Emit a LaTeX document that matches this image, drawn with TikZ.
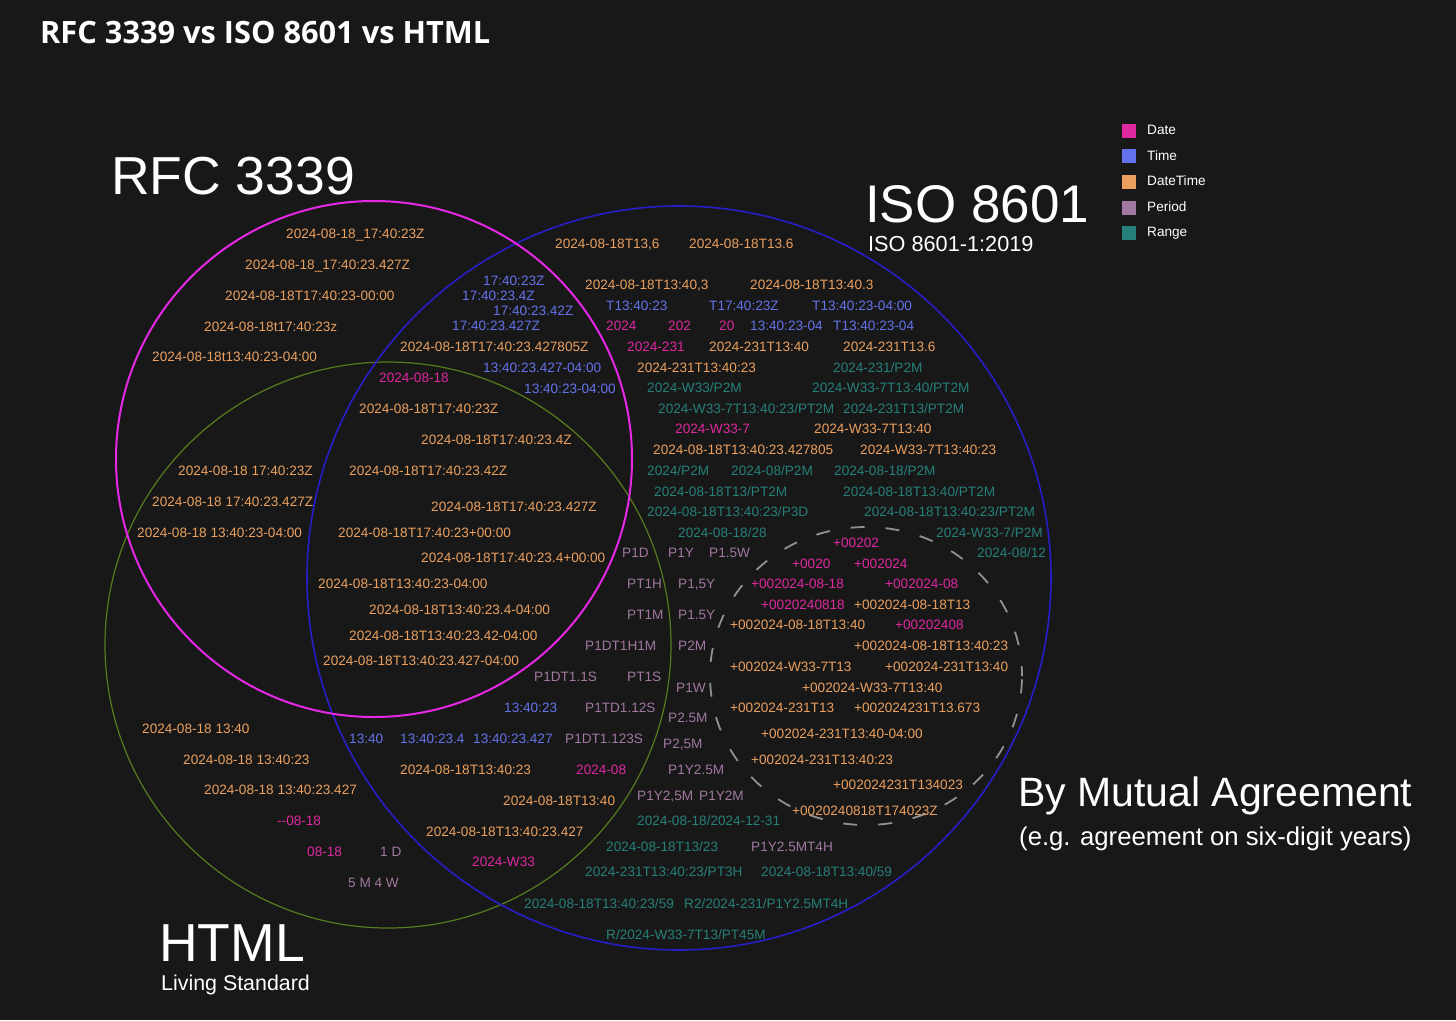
\documentclass[tikz,border=0pt]{standalone}
\usepackage{fontspec}
\usepackage{graphicx}
\setmainfont{Liberation Sans}
\newfontfamily\labfont{Liberation Sans}
\newfontfamily\titlefont{Open Sans}
\definecolor{bg}{RGB}{24,24,24}
\definecolor{cDate}{RGB}{222,40,160}
\definecolor{cTime}{RGB}{100,115,235}
\definecolor{cDT}{RGB}{235,160,95}
\definecolor{cPer}{RGB}{160,120,160}
\definecolor{cRng}{RGB}{38,128,122}
\definecolor{cRFC}{RGB}{230,40,230}
\definecolor{cISO}{RGB}{40,30,200}
\definecolor{cHTML}{RGB}{85,125,30}
\definecolor{cMA}{RGB}{145,145,145}
\begin{document}
\begin{tikzpicture}[x=1pt,y=-1pt,
  lab/.style={anchor=base west, inner sep=0pt, font=\labfont\fontsize{13.6}{15}\selectfont},
  dt/.style={lab, text=cDT},
  dd/.style={lab, text=cDate},
  tm/.style={lab, text=cTime},
  pr/.style={lab, text=cPer},
  rg/.style={lab, text=cRng},
  head/.style={anchor=base west, inner sep=0pt, text=white},
  setc/.style={circle, draw, inner sep=0pt, fill=none},
  legsq/.style={rectangle, inner sep=0pt, minimum size=14pt},
  legtx/.style={anchor=west, inner sep=0pt, text=white, font=\labfont\fontsize{13.6}{15}\selectfont}
]
\fill[bg] (0,0) rectangle (1456,1020);
\useasboundingbox (0,0) rectangle (1456,1020);

% title
\node[head] (title) at (40,43.5) {\resizebox{450pt}{!}{\titlefont\bfseries RFC 3339 vs ISO 8601 vs HTML}};

% set circles
\node[setc, draw=cHTML, line width=1.2pt, minimum size=566pt] (html) at (388,645) {};
\node[setc, draw=cISO, line width=1.6pt, minimum size=744pt] (iso) at (679,578) {};
\node[setc, draw=cRFC, line width=2pt, minimum size=516pt] (rfc) at (374,459) {};
\draw[cMA, line width=1.8pt, dash pattern=on 14pt off 21pt, dash phase=4pt] (866,676) ellipse[x radius=156pt, y radius=149pt];

% headers
\node[head, font=\fontsize{53.5}{60}\selectfont] (hrfc) at (111,194) {RFC 3339};
\node[head, font=\fontsize{53}{60}\selectfont] (hiso) at (865,222) {ISO 8601};
\node[head, font=\fontsize{21.7}{25}\selectfont] (hiso2) at (868,251) {ISO 8601-1:2019};
\node[head, font=\fontsize{53.5}{60}\selectfont] (hhtml) at (159,961) {HTML};
\node[head, font=\fontsize{21.4}{25}\selectfont] (hhtml2) at (161,990) {Living Standard};
\node[head, font=\fontsize{41}{46}\selectfont] (hma) at (1018,806) {By Mutual Agreement};
\node[head, font=\fontsize{25.7}{30}\selectfont] (hma2) at (1019,845) {(e.g. agreement on six-digit years)};

% legend
\node[legsq, fill=cDate] (lq1) at (1129,131) {};
\node[legsq, fill=cTime] (lq2) at (1129,156) {};
\node[legsq, fill=cDT] (lq3) at (1129,182) {};
\node[legsq, fill=cPer] (lq4) at (1129,208) {};
\node[legsq, fill=cRng] (lq5) at (1129,233) {};
\node[legtx] (lt1) at (1147,130) {Date};
\node[legtx] (lt2) at (1147,156) {Time};
\node[legtx] (lt3) at (1147,181) {DateTime};
\node[legtx] (lt4) at (1147,207) {Period};
\node[legtx] (lt5) at (1147,233) {Range};

% RFC only
\node[dt] (a1) at (286,238) {2024-08-18\_17:40:23Z};
\node[dt] (a2) at (245,269) {2024-08-18\_17:40:23.427Z};
\node[dt] (a3) at (225,300) {2024-08-18T17:40:23-00:00};
\node[dt] (a4) at (204,331) {2024-08-18t17:40:23z};
\node[dt] (a5) at (152,361) {2024-08-18t13:40:23-04:00};

% RFC and ISO
\node[tm] (b1) at (483,285) {17:40:23Z};
\node[tm] (b2) at (462,300) {17:40:23.4Z};
\node[tm] (b3) at (493,315) {17:40:23.42Z};
\node[tm] (b4) at (452,330) {17:40:23.427Z};
\node[dt] (b5) at (400,351) {2024-08-18T17:40:23.427805Z};
\node[tm] (b6) at (483,372) {13:40:23.427-04:00};
\node[tm] (b7) at (524,393) {13:40:23-04:00};

% all three
\node[dd] (c1) at (379,382) {2024-08-18};
\node[dt] (c2) at (359,413) {2024-08-18T17:40:23Z};
\node[dt] (c3) at (421,444) {2024-08-18T17:40:23.4Z};
\node[dt] (c4) at (349,475) {2024-08-18T17:40:23.42Z};
\node[dt] (c5) at (431,511) {2024-08-18T17:40:23.427Z};
\node[dt] (c6) at (338,537) {2024-08-18T17:40:23+00:00};
\node[dt] (c7) at (421,562) {2024-08-18T17:40:23.4+00:00};
\node[dt] (c8) at (318,588) {2024-08-18T13:40:23-04:00};
\node[dt] (c9) at (369,614) {2024-08-18T13:40:23.4-04:00};
\node[dt] (c10) at (349,640) {2024-08-18T13:40:23.42-04:00};
\node[dt] (c11) at (323,665) {2024-08-18T13:40:23.427-04:00};

% RFC and HTML
\node[dt] (d1) at (178,475) {2024-08-18 17:40:23Z};
\node[dt] (d2) at (152,506) {2024-08-18 17:40:23.427Z};
\node[dt] (d3) at (137,537) {2024-08-18 13:40:23-04:00};

% HTML and ISO
\node[pr] (e1) at (622,557) {P1D};
\node[pr] (e2) at (668,557) {P1Y};
\node[pr] (e3) at (709,557) {P1.5W};
\node[pr] (e4) at (627,588) {PT1H};
\node[pr] (e5) at (678,588) {P1,5Y};
\node[pr] (e6) at (627,619) {PT1M};
\node[pr] (e7) at (678,619) {P1.5Y};
\node[pr] (e8) at (585,650) {P1DT1H1M};
\node[pr] (e9) at (678,650) {P2M};
\node[pr] (e10) at (534,681) {P1DT1.1S};
\node[pr] (e11) at (627,681) {PT1S};
\node[pr] (e12) at (676,692) {P1W};
\node[tm] (e13) at (504,712) {13:40:23};
\node[pr] (e14) at (585,712) {P1TD1.12S};
\node[pr] (e15) at (668,722) {P2.5M};
\node[tm] (e16) at (349,743) {13:40};
\node[tm] (e17) at (400,743) {13:40:23.4};
\node[tm] (e18) at (473,743) {13:40:23.427};
\node[pr] (e19) at (565,743) {P1DT1.123S};
\node[pr] (e20) at (663,748) {P2,5M};
\node[dt] (e21) at (400,774) {2024-08-18T13:40:23};
\node[dd] (e22) at (576,774) {2024-08};
\node[pr] (e23) at (668,774) {P1Y2.5M};
\node[dt] (e24) at (503,805) {2024-08-18T13:40};
\node[pr] (e25) at (637,800) {P1Y2,5M};
\node[pr] (e26) at (699,800) {P1Y2M};
\node[dt] (e27) at (426,836) {2024-08-18T13:40:23.427};
\node[dd] (e28) at (472,866) {2024-W33};

% HTML only
\node[dt] (f1) at (142,733) {2024-08-18 13:40};
\node[dt] (f2) at (183,764) {2024-08-18 13:40:23};
\node[dt] (f3) at (204,794) {2024-08-18 13:40:23.427};
\node[dd] (f4) at (277,825) {--08-18};
\node[dd] (f5) at (307,856) {08-18};
\node[pr] (f6) at (380,856) {1 D};
\node[pr] (f7) at (348,887) {5 M 4 W};

% ISO only
\node[dt] (g1) at (555,248) {2024-08-18T13,6};
\node[dt] (g2) at (689,248) {2024-08-18T13.6};
\node[dt] (g3) at (585,289) {2024-08-18T13:40,3};
\node[dt] (g4) at (750,289) {2024-08-18T13:40.3};
\node[tm] (g5) at (606,310) {T13:40:23};
\node[tm] (g6) at (709,310) {T17:40:23Z};
\node[tm] (g7) at (812,310) {T13:40:23-04:00};
\node[dd] (g8) at (606,330) {2024};
\node[dd] (g9) at (668,330) {202};
\node[dd] (g10) at (719,330) {20};
\node[tm] (g11) at (750,330) {13:40:23-04};
\node[tm] (g12) at (833,330) {T13:40:23-04};
\node[dd] (g13) at (627,351) {2024-231};
\node[dt] (g14) at (709,351) {2024-231T13:40};
\node[dt] (g15) at (843,351) {2024-231T13.6};
\node[dt] (g16) at (637,372) {2024-231T13:40:23};
\node[rg] (g17) at (833,372) {2024-231/P2M};
\node[rg] (g18) at (647,392) {2024-W33/P2M};
\node[rg] (g19) at (812,392) {2024-W33-7T13:40/PT2M};
\node[rg] (g20) at (658,413) {2024-W33-7T13:40:23/PT2M};
\node[rg] (g21) at (843,413) {2024-231T13/PT2M};
\node[dd] (g22) at (675,433) {2024-W33-7};
\node[dt] (g23) at (814,433) {2024-W33-7T13:40};
\node[dt] (g24) at (653,454) {2024-08-18T13:40:23.427805};
\node[dt] (g25) at (860,454) {2024-W33-7T13:40:23};
\node[rg] (g26) at (647,475) {2024/P2M};
\node[rg] (g27) at (731,475) {2024-08/P2M};
\node[rg] (g28) at (834,475) {2024-08-18/P2M};
\node[rg] (g29) at (654,496) {2024-08-18T13/PT2M};
\node[rg] (g30) at (843,496) {2024-08-18T13:40/PT2M};
\node[rg] (g31) at (647,516) {2024-08-18T13:40:23/P3D};
\node[rg] (g32) at (864,516) {2024-08-18T13:40:23/PT2M};
\node[rg] (g33) at (678,537) {2024-08-18/28};
\node[rg] (g34) at (936,537) {2024-W33-7/P2M};
\node[rg] (g35) at (977,557) {2024-08/12};

\node[rg] (h1) at (637,825) {2024-08-18/2024-12-31};
\node[rg] (h2) at (606,851) {2024-08-18T13/23};
\node[pr] (h3) at (751,851) {P1Y2.5MT4H};
\node[rg] (h4) at (585,876) {2024-231T13:40:23/PT3H};
\node[rg] (h5) at (761,876) {2024-08-18T13:40/59};
\node[rg] (h6) at (524,908) {2024-08-18T13:40:23/59};
\node[rg] (h7) at (684,908) {R2/2024-231/P1Y2.5MT4H};
\node[rg] (h8) at (606,939) {R/2024-W33-7T13/PT45M};

% mutual agreement
\node[dd] (m1) at (833,547) {+00202};
\node[dd] (m2) at (792,568) {+0020};
\node[dd] (m3) at (854,568) {+002024};
\node[dd] (m4) at (751,588) {+002024-08-18};
\node[dd] (m5) at (885,588) {+002024-08};
\node[dd] (m6) at (761,609) {+0020240818};
\node[dt] (m7) at (854,609) {+002024-08-18T13};
\node[dt] (m8) at (730,629) {+002024-08-18T13:40};
\node[dd] (m9) at (895,629) {+00202408};
\node[dt] (m10) at (854,650) {+002024-08-18T13:40:23};
\node[dt] (m11) at (730,671) {+002024-W33-7T13};
\node[dt] (m12) at (885,671) {+002024-231T13:40};
\node[dt] (m13) at (802,692) {+002024-W33-7T13:40};
\node[dt] (m14) at (730,712) {+002024-231T13};
\node[dt] (m15) at (854,712) {+002024231T13.673};
\node[dt] (m16) at (761,738) {+002024-231T13:40-04:00};
\node[dt] (m17) at (751,764) {+002024-231T13:40:23};
\node[dt] (m18) at (833,789) {+002024231T134023};
\node[dt] (m19) at (792,815) {+0020240818T174023Z};
\end{tikzpicture}
\end{document}
